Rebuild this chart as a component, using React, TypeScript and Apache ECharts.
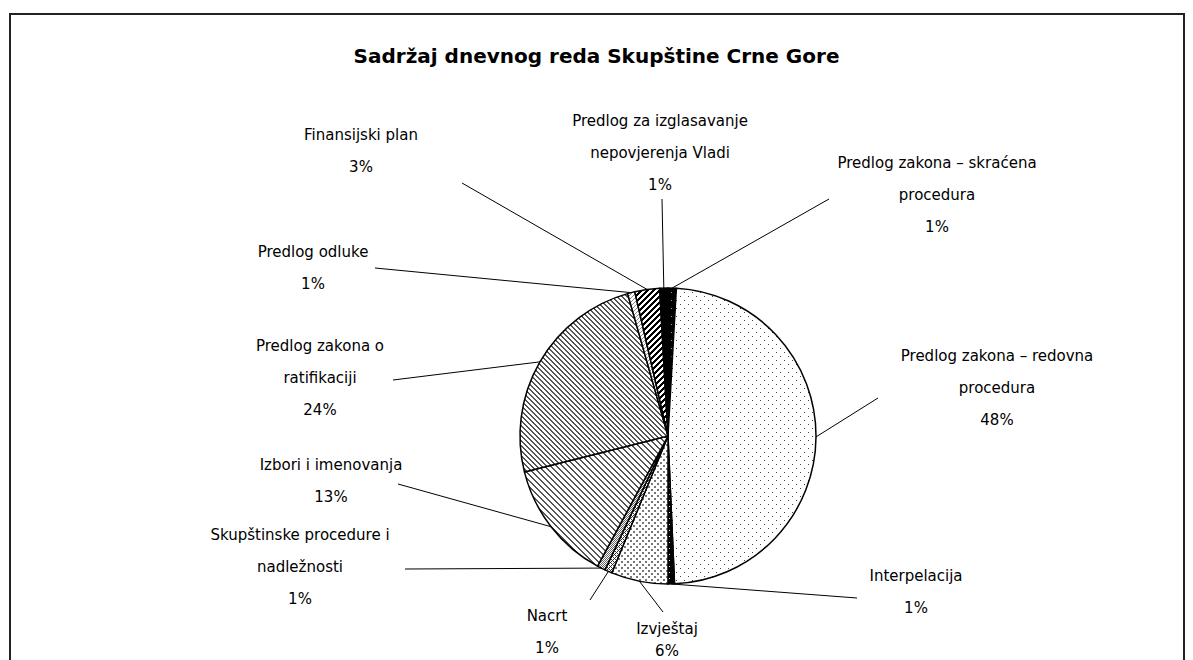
import React, { useEffect, useRef } from "react";
import * as echarts from "echarts";

const titleText = "Sadržaj dnevnog reda Skupštine Crne Gore";

const categories = [
  "Predlog zakona – skraćena procedura",
  "Predlog zakona – redovna procedura",
  "Interpelacija",
  "Izvještaj",
  "Nacrt",
  "Skupštinske procedure i nadležnosti",
  "Izbori i imenovanja",
  "Predlog zakona o ratifikaciji",
  "Predlog odluke",
  "Finansijski plan",
  "Predlog za izglasavanje nepovjerenja Vladi",
];

const shares = [0.9, 48.4, 0.7, 6.2, 0.8, 0.9, 13.2, 24.5, 0.8, 2.7, 0.9];

const labelTexts = [
  "Predlog zakona – skraćena\nprocedura",
  "Predlog zakona – redovna\nprocedura",
  "Interpelacija",
  "Izvještaj",
  "Nacrt",
  "Skupštinske procedure i\nnadležnosti",
  "Izbori i imenovanja",
  "Predlog zakona o\nratifikaciji",
  "Predlog odluke",
  "Finansijski plan",
  "Predlog za izglasavanje\nnepovjerenja Vladi",
];

// label block centres and leader-line end points (layout only)
const labelCenters: [number, number][] = [
  [937, 195], [997, 388], [916, 592], [667, 640], [547, 632], [300, 567],
  [331, 481], [320, 378], [313, 268], [361, 151], [660, 153],
];
const leaderEnds: [number, number][] = [
  [829, 199], [878, 398], [857, 598], [663, 612], [590, 600], [405, 569],
  [398, 484], [393, 380], [375, 268], [462, 183], [662, 199],
];

function tile(size: number, bg: string, fg: string, test: (x: number, y: number) => boolean) {
  const c = document.createElement("canvas");
  c.width = size;
  c.height = size;
  const ctx = c.getContext("2d")!;
  ctx.fillStyle = bg;
  ctx.fillRect(0, 0, size, size);
  ctx.fillStyle = fg;
  for (let y = 0; y < size; y++) {
    for (let x = 0; x < size; x++) {
      if (test(x, y)) ctx.fillRect(x, y, 1, 1);
    }
  }
  return { image: c, repeat: "repeat", imageWidth: size, imageHeight: size } as any;
}

function makeFills() {
  return [
    tile(8, "#000", "#999", (x, y) => (x === 3 && y === 0) || (x === 7 && y === 4)),
    tile(8, "#fff", "#444", (x, y) => (x === 0 && y === 0) || (x === 4 && y === 4)),
    tile(6, "#000", "#ddd", (x, y) => x === 3 && y === 2),
    tile(6, "#fff", "#777", (x, y) => (x < 2 && y < 2) || (x >= 3 && x < 5 && y >= 3 && y < 5)),
    tile(4, "#fff", "#333", (x, y) => (x + y) % 4 === 0 || (x - y + 4) % 4 === 0),
    tile(4, "#fff", "#666", (x, y) => (x + y) % 2 === 0),
    tile(6, "#fff", "#555", (x, y) => (x - y + 12) % 6 < 2),
    tile(5, "#fff", "#555", (x, y) => (x - y + 10) % 5 < 2),
    tile(4, "#fff", "#888", (x, y) => (x + y) % 4 === 0),
    tile(6, "#fff", "#000", (x, y) => (x + y) % 6 < 3),
    "#000",
  ];
}

export default function App() {
  const ref = useRef<HTMLDivElement>(null);
  useEffect(() => {
    document.body.style.margin = "0";
    const chart = echarts.init(ref.current!, null, { renderer: "svg" });
    const fills = makeFills();
    const font = "'DejaVu Sans', sans-serif";
    chart.setOption({
      animation: false,
      backgroundColor: "#fff",
      title: {
        text: titleText,
        left: "center",
        top: 41,
        textStyle: { fontFamily: font, fontSize: 20, fontWeight: "bold", color: "#000" },
      },
      graphic: [
        {
          type: "rect",
          shape: { x: 10, y: 14, width: 1174, height: 700 },
          style: { fill: "none", stroke: "#222", lineWidth: 2 },
          silent: true,
        },
      ],
      series: [
        {
          type: "pie",
          center: [668, 436],
          radius: 148,
          startAngle: 90,
          clockwise: true,
          avoidLabelOverlap: false,
          percentPrecision: 0,
          itemStyle: { borderColor: "#000", borderWidth: 1.5 },
          emphasis: { disabled: true },
          label: {
            show: true,
            position: "outside",
            fontFamily: font,
            fontSize: 15,
            color: "#000",
            lineHeight: 32,
            align: "center",
            formatter: (p: any) => labelTexts[p.dataIndex] + "\n" + p.percent + "%",
          },
          labelLine: { show: true, lineStyle: { color: "#000", width: 1 } },
          labelLayout: (params: any) => {
            const i = params.dataIndex;
            const pts = params.labelLinePoints;
            const start = pts && pts[0] ? pts[0] : leaderEnds[i];
            return {
              x: labelCenters[i][0],
              y: labelCenters[i][1],
              align: "center",
              verticalAlign: "middle",
              labelLinePoints: [start, leaderEnds[i], leaderEnds[i]],
            };
          },
          data: categories.map((name, i) => ({
            name,
            value: shares[i],
            itemStyle: { color: fills[i] },
            label: i === 3 ? { lineHeight: 22 } : undefined,
          })),
        },
      ],
    });
    return () => chart.dispose();
  }, []);
  return <div ref={ref} style={{ width: 1193, height: 660 }} />;
}
